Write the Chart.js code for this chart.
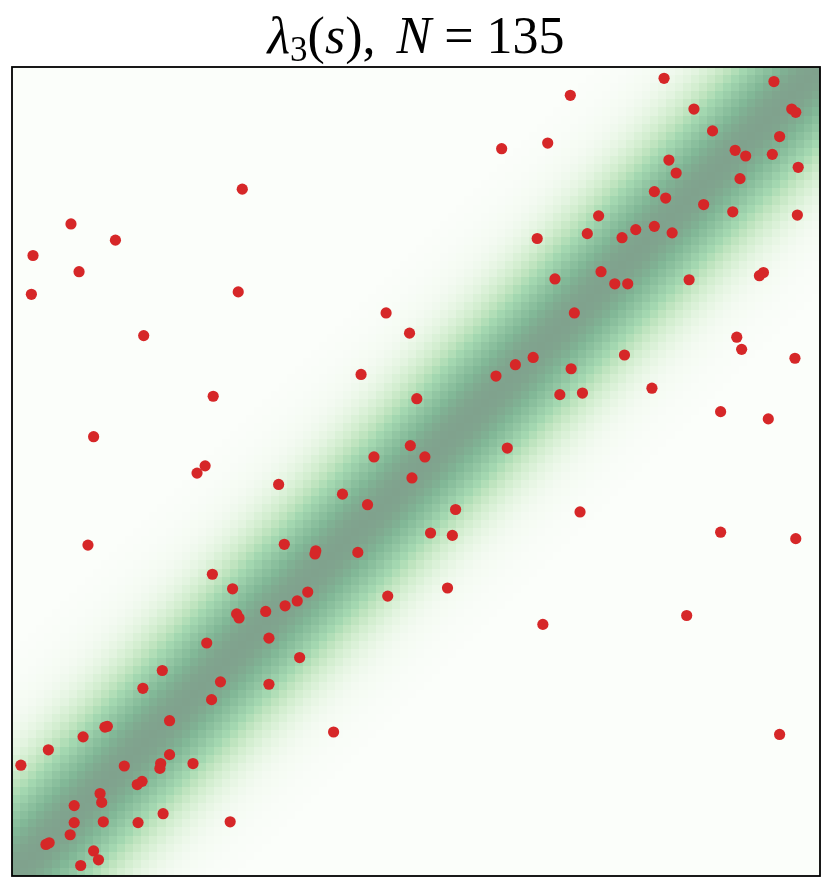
<!DOCTYPE html>
<html>
<head>
<meta charset="utf-8">
<title>lambda_3(s), N = 135</title>
<script src="https://cdn.jsdelivr.net/npm/chart.js@4/dist/chart.umd.min.js"></script>
<style>
    html, body { margin: 0; padding: 0; background: #fff; }
    #wrap { position: relative; width: 832px; height: 888px; }
    #title {
        position: absolute; left: 0; top: 10px; width: 832px;
        text-align: center; font-family: "Liberation Serif", "DejaVu Serif", serif;
        font-size: 52px; line-height: 52px; color: #000; white-space: nowrap;
    }
    #title sub { font-size: 35px; line-height: 0; vertical-align: -8px; }
    #title .rel { margin: 0 13px; }
    #title .gap { margin-left: 8px; }
    #plot { position: absolute; left: 0; top: 0; }
</style>
</head>
<body>
<div id="wrap">
    <canvas id="plot" width="832" height="888"></canvas>
    <div id="title"><i>λ</i><sub>3</sub>(<i>s</i>),<span class="gap"></span> <i>N</i><span class="rel">=</span>135</div>
</div>
<script>
// scatter sample (unit square, y up)
const pointsX = [
    0.285, 0.073, 0.128, 0.026, 0.083, 0.024, 0.280, 0.163, 0.606, 0.663,
    0.650, 0.463, 0.492, 0.807, 0.691, 0.943, 0.844, 0.965, 0.970, 0.867,
    0.950, 0.895, 0.908, 0.941, 0.813, 0.822, 0.901, 0.973, 0.795, 0.809,
    0.856, 0.892, 0.972, 0.726, 0.712, 0.755, 0.772, 0.795, 0.817, 0.729,
    0.672, 0.746, 0.762, 0.838, 0.925, 0.930, 0.696, 0.897, 0.249, 0.101,
    0.239, 0.229, 0.330, 0.094, 0.248, 0.273, 0.432, 0.501, 0.599, 0.623,
    0.645, 0.613, 0.493, 0.511, 0.448, 0.495, 0.409, 0.440, 0.549, 0.518,
    0.545, 0.337, 0.376, 0.375, 0.428, 0.539, 0.465, 0.366, 0.353, 0.338,
    0.903, 0.969, 0.758, 0.692, 0.678, 0.706, 0.792, 0.877, 0.936, 0.703,
    0.877, 0.970, 0.278, 0.281, 0.314, 0.318, 0.241, 0.186, 0.258, 0.318,
    0.162, 0.247, 0.195, 0.115, 0.118, 0.088, 0.045, 0.011, 0.139, 0.195,
    0.184, 0.183, 0.224, 0.161, 0.155, 0.109, 0.111, 0.077, 0.077, 0.113,
    0.156, 0.187, 0.270, 0.072, 0.042, 0.046, 0.101, 0.107, 0.085, 0.356,
    0.398, 0.657, 0.835, 0.950
];
const pointsY = [
    0.849, 0.806, 0.786, 0.767, 0.747, 0.719, 0.722, 0.668, 0.899, 0.906,
    0.788, 0.696, 0.671, 0.986, 0.965, 0.982, 0.948, 0.948, 0.944, 0.921,
    0.914, 0.897, 0.890, 0.892, 0.885, 0.869, 0.862, 0.876, 0.846, 0.838,
    0.830, 0.821, 0.817, 0.816, 0.794, 0.789, 0.799, 0.803, 0.795, 0.747,
    0.738, 0.732, 0.732, 0.737, 0.742, 0.746, 0.696, 0.666, 0.593, 0.543,
    0.507, 0.498, 0.484, 0.409, 0.373, 0.355, 0.620, 0.590, 0.618, 0.632,
    0.641, 0.529, 0.532, 0.518, 0.518, 0.492, 0.472, 0.459, 0.453, 0.424,
    0.421, 0.410, 0.402, 0.398, 0.400, 0.356, 0.346, 0.351, 0.340, 0.334,
    0.651, 0.640, 0.644, 0.627, 0.595, 0.597, 0.603, 0.574, 0.565, 0.450,
    0.425, 0.417, 0.324, 0.319, 0.327, 0.294, 0.288, 0.254, 0.240, 0.237,
    0.232, 0.218, 0.192, 0.184, 0.185, 0.172, 0.156, 0.137, 0.136, 0.150,
    0.139, 0.133, 0.139, 0.117, 0.113, 0.102, 0.091, 0.087, 0.066, 0.067,
    0.066, 0.077, 0.067, 0.051, 0.039, 0.041, 0.031, 0.020, 0.013, 0.270,
    0.178, 0.311, 0.322, 0.175
];

// background density: level per cell, indexed by distance from the diagonal (in cells)
const gridCells = 100;
const bandLevels = [
    1.00, 0.99, 0.98, 0.95, 0.91, 0.86, 0.80, 0.74, 0.67, 0.61,
    0.54, 0.47, 0.41, 0.35, 0.30, 0.25, 0.21, 0.17, 0.14, 0.11,
    0.085, 0.066, 0.05, 0.038, 0.029, 0.021, 0.015, 0.011
];

// matplotlib "Greens", drawn at half opacity over white
const greensStops = [
    [247, 252, 245], [229, 245, 224], [199, 233, 192], [161, 217, 155],
    [116, 196, 118], [65, 171, 93], [35, 139, 69], [0, 109, 44], [0, 68, 27]
];
const heatAlpha = 0.5;

function greens(v) {
    const t = Math.max(0, Math.min(1, v)) * (greensStops.length - 1);
    const i = Math.min(Math.floor(t), greensStops.length - 2);
    const f = t - i;
    const c = greensStops[i].map((a, n) => a + (greensStops[i + 1][n] - a) * f);
    const mix = c.map(a => Math.round(255 + (a - 255) * heatAlpha));
    return 'rgb(' + mix.join(',') + ')';
}

const bandHeatmap = {
    id: 'bandHeatmap',
    beforeDatasetsDraw(chart) {
        const { ctx, scales: { x, y } } = chart;
        ctx.save();
        for (let i = 0; i < gridCells; i++) {
            const x0 = Math.round(x.getPixelForValue(i / gridCells));
            const x1 = Math.round(x.getPixelForValue((i + 1) / gridCells));
            for (let j = 0; j < gridCells; j++) {
                const y0 = Math.round(y.getPixelForValue(j / gridCells));
                const y1 = Math.round(y.getPixelForValue((j + 1) / gridCells));
                const k = Math.abs(i - j);
                ctx.fillStyle = greens(k < bandLevels.length ? bandLevels[k] : 0);
                ctx.fillRect(x0, y1, x1 - x0, y0 - y1);
            }
        }
        ctx.restore();
    }
};

const frame = {
    id: 'frame',
    afterDatasetsDraw(chart) {
        const { ctx, chartArea: a } = chart;
        ctx.save();
        ctx.strokeStyle = '#000';
        ctx.lineWidth = 1.8;
        ctx.strokeRect(a.left, a.top, a.right - a.left, a.bottom - a.top);
        ctx.restore();
    }
};

new Chart(document.getElementById('plot'), {
    type: 'scatter',
    data: {
        datasets: [{
            data: pointsX.map((v, i) => ({ x: v, y: pointsY[i] })),
            backgroundColor: '#d62728',
            borderWidth: 0,
            pointRadius: 5.6,
            pointHoverRadius: 5.6,
            clip: false
        }]
    },
    options: {
        responsive: false,
        animation: false,
        devicePixelRatio: 1,
        layout: { padding: { left: 12, top: 67, right: 12, bottom: 12 } },
        plugins: {
            legend: { display: false },
            tooltip: { enabled: false }
        },
        scales: {
            x: { type: 'linear', min: 0, max: 1, display: false },
            y: { type: 'linear', min: 0, max: 1, display: false }
        }
    },
    plugins: [bandHeatmap, frame]
});
</script>
</body>
</html>
